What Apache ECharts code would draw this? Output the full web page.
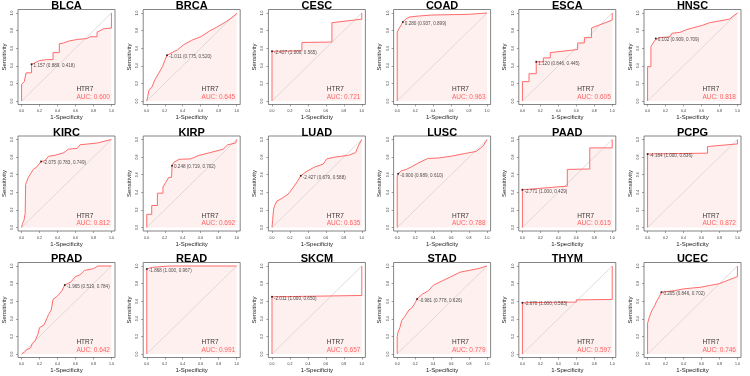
<!DOCTYPE html>
<html>
<head>
<meta charset="utf-8">
<title>HTR7 ROC</title>
<script src="https://cdn.jsdelivr.net/npm/echarts@6.0.0/dist/echarts.min.js"></script>
<style>
  html, body { margin: 0; padding: 0; background: #fff; }
  #chart { width: 750px; height: 376px; }
</style>
</head>
<body>
<div id="chart"></div>
<script>
// cancer types, one panel each
const panelNames = ['BLCA', 'BRCA', 'CESC', 'COAD', 'ESCA', 'HNSC',
                    'KIRC', 'KIRP', 'LUAD', 'LUSC', 'PAAD', 'PCPG',
                    'PRAD', 'READ', 'SKCM', 'STAD', 'THYM', 'UCEC'];
const aucValues = ['0.600', '0.645', '0.721', '0.963', '0.605', '0.818',
                   '0.812', '0.692', '0.635', '0.788', '0.615', '0.872',
                   '0.642', '0.991', '0.657', '0.779', '0.597', '0.746'];

// best threshold: value, specificity, sensitivity
const thresholdValues = ['1.157', '-1.011', '-2.427', '0.280', '1.120', '0.102',
                         '-2.075', '0.248', '-2.427', '-0.900', '-2.771', '-4.164',
                         '-1.965', '-1.868', '-2.011', '-0.981', '-2.670', '0.205'];
const thresholdSpec = ['0.889', '0.775', '1.000', '0.937', '0.846', '0.909',
                       '0.783', '0.719', '0.679', '0.989', '1.000', '1.000',
                       '0.519', '1.000', '1.000', '0.778', '1.000', '0.846'];
const thresholdSens = ['0.418', '0.520', '0.565', '0.899', '0.445', '0.709',
                       '0.749', '0.702', '0.588', '0.610', '0.429', '0.836',
                       '0.784', '0.967', '0.650', '0.626', '0.583', '0.702'];

// ROC curves as [1-specificity, sensitivity]
const curveBLCA = [[0,0],[0,0.19],[0.03,0.22],[0.05,0.22],[0.05,0.32],[0.111,0.32],[0.111,0.418],[0.14,0.43],[0.2,0.46],[0.28,0.47],[0.35,0.47],[0.35,0.55],[0.42,0.55],[0.42,0.65],[0.47,0.66],[0.52,0.68],[0.62,0.7],[0.73,0.71],[0.76,0.73],[0.84,0.73],[0.84,0.78],[0.91,0.82],[1,0.83],[1,1]];
const curveBRCA = [[0,0],[0.01,0.05],[0.026,0.13],[0.056,0.155],[0.09,0.24],[0.13,0.31],[0.175,0.39],[0.2,0.46],[0.225,0.52],[0.28,0.55],[0.34,0.58],[0.41,0.64],[0.5,0.69],[0.6,0.73],[0.69,0.79],[0.78,0.84],[0.88,0.9],[0.95,0.95],[1,0.99],[1,1]];
const curveCESC = [[0,0],[0,0.565],[0.333,0.57],[0.333,0.665],[0.667,0.67],[0.667,0.89],[1,0.93],[1,1]];
const curveCOAD = [[0,0],[0,0.785],[0.02,0.8],[0.03,0.84],[0.048,0.87],[0.063,0.899],[0.1,0.935],[0.14,0.955],[0.23,0.965],[0.38,0.977],[0.79,0.985],[0.81,0.995],[1,1]];
const curveESCA = [[0,0],[0,0.22],[0.074,0.22],[0.074,0.31],[0.154,0.31],[0.154,0.445],[0.233,0.445],[0.233,0.49],[0.31,0.49],[0.31,0.55],[0.615,0.585],[0.615,0.66],[0.69,0.66],[0.69,0.72],[0.77,0.72],[0.77,0.83],[1,0.92],[1,1]];
const curveHNSC = [[0,0],[0,0.39],[0.037,0.39],[0.037,0.62],[0.05,0.635],[0.063,0.66],[0.08,0.69],[0.091,0.709],[0.13,0.72],[0.25,0.73],[0.27,0.77],[0.36,0.78],[0.43,0.81],[0.5,0.83],[0.61,0.86],[0.69,0.89],[0.8,0.91],[0.91,0.93],[0.96,0.97],[1,1]];
const curveKIRC = [[0,0],[0.01,0.045],[0.026,0.08],[0.04,0.16],[0.045,0.49],[0.056,0.52],[0.075,0.57],[0.1,0.61],[0.13,0.66],[0.17,0.69],[0.217,0.749],[0.26,0.76],[0.3,0.81],[0.37,0.82],[0.47,0.85],[0.52,0.89],[0.62,0.9],[0.65,0.94],[0.84,0.96],[1,1]];
const curveKIRP = [[0,0],[0,0.15],[0.055,0.15],[0.055,0.25],[0.118,0.25],[0.118,0.39],[0.18,0.39],[0.18,0.46],[0.21,0.51],[0.245,0.57],[0.276,0.57],[0.281,0.702],[0.3,0.74],[0.36,0.775],[0.49,0.78],[0.58,0.82],[0.7,0.85],[0.85,0.89],[0.9,0.94],[0.99,0.96],[1,1]];
const curveLUAD = [[0,0],[0.007,0.08],[0.018,0.21],[0.03,0.25],[0.055,0.3],[0.11,0.33],[0.18,0.38],[0.24,0.46],[0.28,0.52],[0.321,0.588],[0.39,0.64],[0.48,0.69],[0.57,0.72],[0.61,0.78],[0.7,0.8],[0.85,0.82],[0.93,0.85],[0.96,0.925],[1,1]];
const curveLUSC = [[0,0],[0,0.57],[0.011,0.61],[0.048,0.645],[0.1,0.66],[0.16,0.69],[0.23,0.73],[0.34,0.785],[0.46,0.79],[0.6,0.81],[0.75,0.84],[0.88,0.865],[0.955,0.925],[1,1]];
const curvePAAD = [[0,0],[0,0.429],[0.5,0.47],[0.5,0.66],[0.75,0.665],[0.75,0.905],[1,0.905],[1,1]];
const curvePCPG = [[0,0],[0,0.836],[0.667,0.845],[0.667,0.92],[1,0.95],[1,1]];
const curvePRAD = [[0,0],[0.03,0.02],[0.06,0.05],[0.1,0.07],[0.12,0.12],[0.15,0.15],[0.18,0.22],[0.2,0.3],[0.25,0.33],[0.28,0.4],[0.3,0.45],[0.33,0.5],[0.35,0.62],[0.4,0.66],[0.45,0.72],[0.481,0.784],[0.55,0.82],[0.6,0.88],[0.65,0.9],[0.7,0.95],[0.8,0.97],[0.85,1],[1,1]];
const curveREAD = [[0,0],[0,0.967],[0.03,0.975],[0.06,0.985],[0.12,0.99],[0.25,1],[1,1]];
const curveSKCM = [[0,0],[0,0.65],[1,0.665],[1,1]];
const curveSTAD = [[0,0],[0,0.2],[0.01,0.25],[0.03,0.3],[0.05,0.38],[0.08,0.42],[0.1,0.45],[0.13,0.5],[0.16,0.52],[0.2,0.58],[0.222,0.626],[0.28,0.68],[0.35,0.72],[0.4,0.78],[0.5,0.83],[0.6,0.88],[0.7,0.93],[0.8,0.95],[0.9,0.97],[1,1]];
const curveTHYM = [[0,0],[0,0.583],[0.6,0.59],[0.6,0.615],[1,0.62],[1,1]];
const curveUCEC = [[0,0],[0,0.35],[0.02,0.42],[0.05,0.5],[0.08,0.55],[0.1,0.6],[0.13,0.65],[0.154,0.702],[0.3,0.72],[0.4,0.74],[0.5,0.75],[0.6,0.76],[0.7,0.78],[0.8,0.8],[0.9,0.84],[1,0.88],[1,1]];

const rocCurves = [curveBLCA, curveBRCA, curveCESC, curveCOAD, curveESCA, curveHNSC,
                   curveKIRC, curveKIRP, curveLUAD, curveLUSC, curvePAAD, curvePCPG,
                   curvePRAD, curveREAD, curveSKCM, curveSTAD, curveTHYM, curveUCEC];

const tickValues = [0, 0.2, 0.4, 0.6, 0.8, 1];
const diagonal = [[0, 0], [1, 1]];
const geneName = 'HTR7';
const geneLabelPos = [0.61, 0.13];
const aucLabelPos = [0.61, 0.045];

let chart = echarts.init(document.getElementById('chart'));

let titles = [], grids = [], xAxes = [], yAxes = [], series = [];
const font = 'Liberation Sans, Arial, sans-serif';

panelNames.forEach(function (name, k) {
    let row = Math.floor(k / 6);
    let col = k % 6;
    let left = 18 + 125.2 * col;
    let top = 9.5 + 126.5 * row;

    titles.push({
        text: name,
        left: left + 48.5,
        top: top - 9,
        textAlign: 'center',
        padding: 0,
        textStyle: { fontSize: 11, fontWeight: 'bold', color: '#000', fontFamily: font }
    });
    grids.push({
        left: left, top: top, width: 97, height: 95,
        show: true, borderColor: '#666', borderWidth: 0.8
    });
    xAxes.push({
        gridIndex: k, type: 'value', min: -0.04, max: 1.04,
        axisLine: { show: false, onZero: false },
        splitLine: { show: false },
        axisTick: { show: true, customValues: tickValues, length: 2, lineStyle: { color: '#666', width: 0.6 } },
        axisLabel: { customValues: tickValues, fontSize: 3.5, margin: 5, color: '#333', fontFamily: font,
                     formatter: function (v) { return v.toFixed(1); } },
        name: '1-Specificity', nameLocation: 'middle', nameGap: 10,
        nameTextStyle: { fontSize: 6, color: '#222', fontFamily: font }
    });
    yAxes.push({
        gridIndex: k, type: 'value', min: -0.04, max: 1.04,
        axisLine: { show: false, onZero: false },
        splitLine: { show: false },
        axisTick: { show: true, customValues: tickValues, length: 2, lineStyle: { color: '#666', width: 0.6 } },
        axisLabel: { customValues: tickValues, fontSize: 3.5, margin: 4, rotate: 90, color: '#333', fontFamily: font,
                     formatter: function (v) { return v.toFixed(1); } },
        name: 'Sensitivity', nameLocation: 'middle', nameGap: 11,
        nameTextStyle: { fontSize: 6, color: '#222', fontFamily: font }
    });

    // pink area under the curve
    series.push({
        type: 'line', xAxisIndex: k, yAxisIndex: k, data: rocCurves[k],
        symbol: 'none', silent: true, z: 1,
        lineStyle: { width: 0 },
        areaStyle: { color: '#FFF0F0', opacity: 1 }
    });
    // reference diagonal
    series.push({
        type: 'line', xAxisIndex: k, yAxisIndex: k, data: diagonal,
        symbol: 'none', silent: true, z: 2,
        lineStyle: { color: '#CFCFCF', width: 0.7 }
    });
    // roc curve
    series.push({
        type: 'line', xAxisIndex: k, yAxisIndex: k, data: rocCurves[k],
        symbol: 'none', silent: true, z: 3,
        lineStyle: { color: '#FF6B6B', width: 1 }
    });
    // best threshold point
    let spec = parseFloat(thresholdSpec[k]);
    let sens = parseFloat(thresholdSens[k]);
    series.push({
        type: 'scatter', xAxisIndex: k, yAxisIndex: k,
        data: [[1 - spec, sens]], symbolSize: 2, silent: true, z: 4,
        itemStyle: { color: '#000' },
        label: {
            show: true, position: 'right', distance: 1, offset: [0, 1.5],
            formatter: thresholdValues[k] + ' (' + thresholdSpec[k] + ', ' + thresholdSens[k] + ')',
            fontSize: 4.6, color: '#222', fontFamily: font
        }
    });
    // gene name + AUC text
    series.push({
        type: 'scatter', xAxisIndex: k, yAxisIndex: k,
        data: [geneLabelPos], symbolSize: 0, silent: true, z: 5,
        label: { show: true, position: 'right', distance: 0, formatter: geneName,
                 fontSize: 6.5, color: '#000', fontFamily: font }
    });
    series.push({
        type: 'scatter', xAxisIndex: k, yAxisIndex: k,
        data: [aucLabelPos], symbolSize: 0, silent: true, z: 5,
        label: { show: true, position: 'right', distance: 0, formatter: 'AUC: ' + aucValues[k],
                 fontSize: 6.5, color: '#FF3B3B', fontFamily: font }
    });
});

let option = {
    animation: false,
    backgroundColor: '#fff',
    title: titles,
    grid: grids,
    xAxis: xAxes,
    yAxis: yAxes,
    series: series
};
chart.setOption(option);
</script>
</body>
</html>
